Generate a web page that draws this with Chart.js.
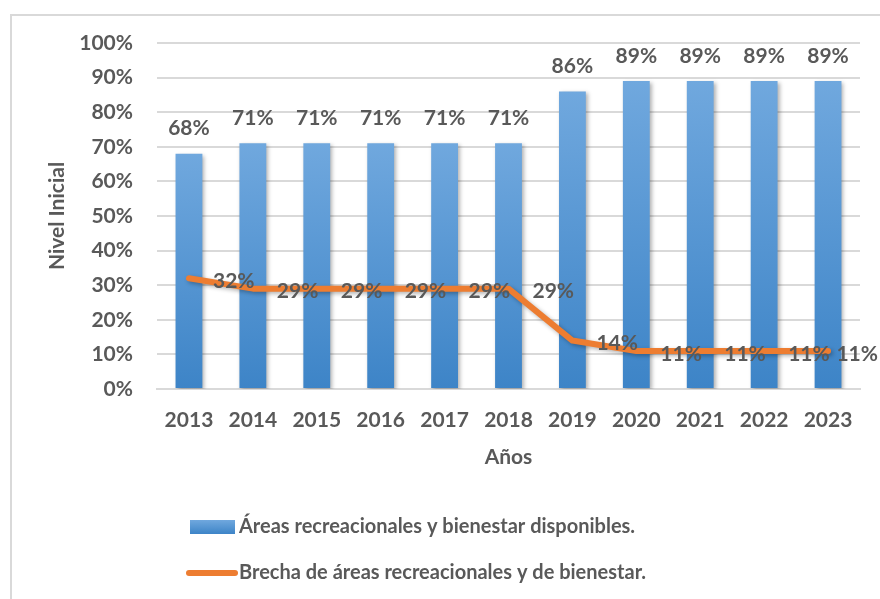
<!DOCTYPE html>
<html>
<head>
<meta charset="utf-8">
<script src="https://cdn.jsdelivr.net/npm/chart.js@4"></script>
<style>
  html, body { margin: 0; padding: 0; background: #fff; }
  #wrap { position: relative; width: 880px; height: 599px; }
  #frame { position: absolute; left: 10px; top: 14px; width: 900px; height: 620px; border: 2px solid #d9d9d9; box-sizing: border-box; }
</style>
</head>
<body>
<div id="wrap">
  <div id="frame"></div>
  <canvas id="chart" width="880" height="599"></canvas>
</div>
<script>
const years = ['2013', '2014', '2015', '2016', '2017', '2018', '2019', '2020', '2021', '2022', '2023'];
const disponibles = [68, 71, 71, 71, 71, 71, 86, 89, 89, 89, 89];
const brecha = [32, 29, 29, 29, 29, 29, 14, 11, 11, 11, 11];
const yTicks = [0, 10, 20, 30, 40, 50, 60, 70, 80, 90, 100];

const textColor = '#595959';
const fontFamily = 'Lato, "Open Sans", sans-serif';

function barGradient(context) {
    const chart = context.chart;
    const yScale = chart.scales.y;
    if (!yScale || !context.parsed) return '#5b9bd5';
    const top = yScale.getPixelForValue(context.parsed.y);
    const bottom = yScale.getPixelForValue(0);
    if (!isFinite(top) || !isFinite(bottom) || top === bottom) return '#5b9bd5';
    const g = chart.ctx.createLinearGradient(0, top, 0, bottom);
    g.addColorStop(0, '#70a8de');
    g.addColorStop(1, '#3d84c7');
    return g;
}

// soft shadow under bars and line, like the office chart
const shadowPlugin = {
    id: 'shadow',
    beforeDatasetDraw(chart) {
        const ctx = chart.ctx;
        ctx.save();
        ctx.shadowColor = 'rgba(0,0,0,0.3)';
        ctx.shadowBlur = 4;
        ctx.shadowOffsetX = 2;
        ctx.shadowOffsetY = 2;
    },
    afterDatasetDraw(chart) {
        chart.ctx.restore();
    }
};

const labelPlugin = {
    id: 'valueLabels',
    afterDatasetsDraw(chart) {
        const ctx = chart.ctx;
        ctx.save();
        ctx.font = 'bold 21px ' + fontFamily;
        ctx.fillStyle = textColor;
        ctx.textBaseline = 'middle';

        chart.getDatasetMeta(1).data.forEach((bar, i) => {
            ctx.textAlign = 'center';
            ctx.fillText(disponibles[i] + '%', bar.x, bar.y - 25);
        });

        chart.getDatasetMeta(0).data.forEach((pt, i) => {
            const txt = brecha[i] + '%';
            const w = ctx.measureText(txt).width;
            let x = pt.x + 24;
            if (x + w > chart.width - 2) x = chart.width - 2 - w;
            ctx.textAlign = 'left';
            ctx.fillText(txt, x, pt.y + 3);
        });
        ctx.restore();
    }
};

const legendPlugin = {
    id: 'bottomLegend',
    afterDraw(chart) {
        const ctx = chart.ctx;
        ctx.save();
        ctx.font = 'bold 20px ' + fontFamily;
        ctx.textBaseline = 'middle';
        ctx.textAlign = 'left';

        const sw = ctx.createLinearGradient(0, 520, 0, 534);
        sw.addColorStop(0, '#70a8de');
        sw.addColorStop(1, '#3d84c7');
        ctx.fillStyle = sw;
        ctx.fillRect(190, 520, 45, 14);
        ctx.fillStyle = textColor;
        ctx.fillText(chart.data.datasets[1].label, 239, 527);

        ctx.strokeStyle = '#ed7d31';
        ctx.lineWidth = 6;
        ctx.lineCap = 'round';
        ctx.beginPath();
        ctx.moveTo(189, 573);
        ctx.lineTo(235, 573);
        ctx.stroke();
        ctx.fillText(chart.data.datasets[0].label, 239, 573);
        ctx.restore();
    }
};

new Chart(document.getElementById('chart'), {
    type: 'bar',
    data: {
        labels: years,
        datasets: [
            {
                type: 'line',
                label: 'Brecha de áreas recreacionales y de bienestar.',
                data: brecha,
                borderColor: '#ed7d31',
                backgroundColor: '#ed7d31',
                borderWidth: 6,
                borderJoinStyle: 'round',
                borderCapStyle: 'round',
                pointRadius: 0,
                tension: 0,
                order: 0
            },
            {
                type: 'bar',
                label: 'Áreas recreacionales y bienestar disponibles.',
                data: disponibles,
                backgroundColor: barGradient,
                categoryPercentage: 1,
                barPercentage: 0.42,
                order: 1
            }
        ]
    },
    options: {
        responsive: false,
        animation: false,
        layout: { padding: { left: 0, right: 20, top: 43, bottom: 120 } },
        plugins: {
            legend: { display: false },
            tooltip: { enabled: false }
        },
        scales: {
            x: {
                grid: { display: false, drawTicks: false },
                border: { color: '#d9d9d9', width: 2 },
                ticks: {
                    color: textColor,
                    font: { family: fontFamily, size: 21, weight: 'bold' },
                    padding: 19,
                    maxRotation: 0
                },
                title: {
                    display: true,
                    text: 'Años',
                    color: textColor,
                    font: { family: fontFamily, size: 21, weight: 'bold' },
                    padding: { top: 0, bottom: 9 }
                },
                afterFit(scale) { scale.height = 90; }
            },
            y: {
                min: 0,
                max: 100,
                afterBuildTicks(scale) { scale.ticks = yTicks.map(v => ({ value: v })); },
                grid: { color: '#d9d9d9', lineWidth: 2, drawTicks: false },
                border: { display: false },
                ticks: {
                    color: textColor,
                    font: { family: fontFamily, size: 21, weight: 'bold' },
                    padding: 24,
                    callback: v => v + '%'
                },
                title: {
                    display: true,
                    text: 'Nivel Inicial',
                    color: textColor,
                    font: { family: fontFamily, size: 21, weight: 'bold' },
                    padding: { top: 45, bottom: 0 }
                },
                afterFit(scale) { scale.width = 157; }
            }
        }
    },
    plugins: [shadowPlugin, labelPlugin, legendPlugin]
});
</script>
</body>
</html>
